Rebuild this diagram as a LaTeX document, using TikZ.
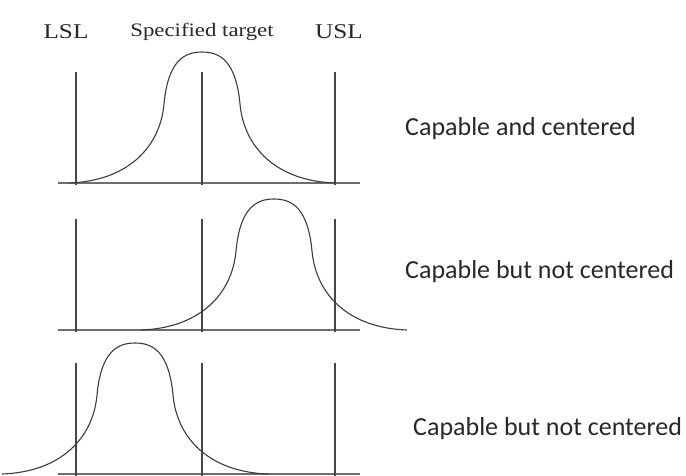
\documentclass[tikz,border=0pt]{standalone}
\usepackage{fontspec}
\setmainfont{Liberation Serif}
\newfontfamily\capfont{Carlito}
\usepackage{tikz}
\usetikzlibrary{positioning}
\definecolor{limgray}{RGB}{70,70,70}
\definecolor{basegray}{RGB}{110,110,110}
\definecolor{curvegray}{RGB}{60,60,60}
\definecolor{textgray}{RGB}{40,40,40}

\tikzset{
  bellcurve/.pic={
    \draw[bell] (-133,0) .. controls (-75,-2) and (-42,-35) .. (-38,-79)
      .. controls (-34,-122) and (-18,-131) .. (0,-131)
      .. controls (18,-131) and (34,-122) .. (38,-79)
      .. controls (42,-35) and (75,-2) .. (133,0);
  }
}

\begin{document}
\begin{tikzpicture}[
  x=1pt, y=-1pt,
  speclim/.style={line width=1.8pt, draw=limgray},
  axisline/.style={line width=1.4pt, draw=basegray},
  bell/.style={line width=1.1pt, draw=curvegray},
  limlabel/.style={anchor=base, inner sep=0pt, font=\fontsize{21}{24}\selectfont, xscale=1.2, transform shape, text=textgray},
  targetlabel/.style={anchor=base, inner sep=0pt, font=\fontsize{19}{22}\selectfont, xscale=1.2, transform shape, text=textgray},
  capnote/.style={anchor=base west, inner sep=0pt, font=\capfont\fontsize{26}{30}\selectfont, text=textgray}
]
\useasboundingbox[fill=white] (0,0) rectangle (686,475);

% Limit labels
\node[limlabel] (lsl) at (66,38) {LSL};
\node[targetlabel] (target) at (202,36) {Specified target};
\node[limlabel] (usl) at (339,38) {USL};

% Three rows: baseline, spec limits, bell curve
\foreach \base/\mu in {183/202, 330/274, 474/135} {
  \draw[axisline] (58,\base) -- (360,\base);
  \foreach \xl in {76,202,335}
    \draw[speclim] (\xl,\base+2) -- (\xl,\base-111);
  \pic at (\mu,\base) {bellcurve};
}

% Row captions
\node[capnote] (cap1) at (405,135) {Capable and centered};
\node[capnote] (cap2) at (405,278) {Capable but not centered};
\node[capnote] (cap3) at (413,435) {Capable but not centered};

\end{tikzpicture}
\end{document}
